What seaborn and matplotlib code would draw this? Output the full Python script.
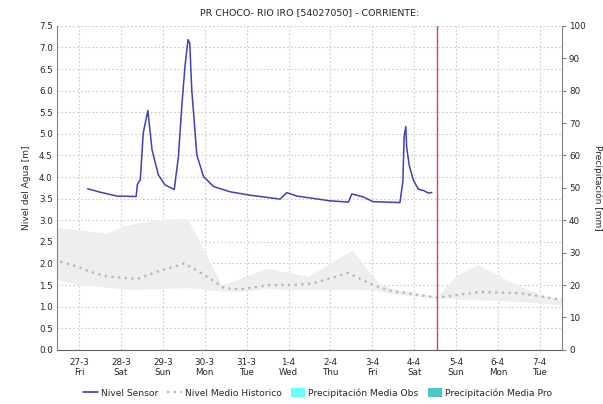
import numpy as np
import pandas as pd
import seaborn as sns
import matplotlib
matplotlib.use("Agg")
import matplotlib.pyplot as plt
from matplotlib.lines import Line2D
from matplotlib.patches import Patch

# dias desde 27-3 00:00 y nivel del sensor [m]
dias_sensor = [0.20, 0.50, 0.90, 1.36, 1.39, 1.46, 1.53, 1.64, 1.74, 1.89, 2.05, 2.27,
               2.37, 2.45, 2.53, 2.60, 2.64, 2.69, 2.81, 2.97, 3.21, 3.60, 4.08, 4.80,
               4.96, 5.20, 5.99, 6.43, 6.51, 6.78, 7.02, 7.66, 7.73, 7.76, 7.80, 7.82,
               7.88, 7.98, 8.10, 8.22, 8.34, 8.42]
nivel_sensor = [3.73, 3.65, 3.56, 3.55, 3.83, 3.94, 5.02, 5.54, 4.63, 4.05, 3.82, 3.71,
                4.47, 5.63, 6.60, 7.18, 7.10, 6.00, 4.51, 4.01, 3.78, 3.66, 3.58, 3.49,
                3.64, 3.56, 3.45, 3.42, 3.61, 3.54, 3.43, 3.41, 3.90, 4.94, 5.17, 4.70,
                4.28, 3.93, 3.72, 3.69, 3.63, 3.64]

# nivel medio historico
dias_medio = [-0.45, -0.05, 0.26, 0.67, 1.38, 1.86, 2.51, 2.98, 3.46, 3.84, 4.56, 5.11,
              5.58, 6.42, 7.02, 7.42, 8.54, 9.57, 10.53, 11.53]
nivel_medio = [2.04, 1.93, 1.81, 1.70, 1.64, 1.81, 2.00, 1.74, 1.43, 1.40, 1.50, 1.50,
               1.54, 1.78, 1.50, 1.37, 1.21, 1.34, 1.31, 1.16]

# banda historica (min / max)
dias_banda = [-0.53, -0.05, 0.67, 1.07, 2.03, 2.58, 3.41, 3.96, 4.49, 5.04, 5.47, 6.52,
              7.11, 7.42, 8.54, 9.02, 9.52, 10.45, 11.07, 11.53]
banda_max = [2.83, 2.78, 2.70, 2.88, 3.03, 3.05, 1.50, 1.70, 1.89, 1.78, 1.70, 2.31,
             1.58, 1.43, 1.23, 1.74, 1.97, 1.50, 1.27, 1.16]
banda_min = [1.62, 1.52, 1.45, 1.40, 1.42, 1.44, 1.36, 1.36, 1.42, 1.40, 1.40, 1.40,
             1.38, 1.30, 1.20, 1.18, 1.16, 1.12, 1.08, 1.04]

dia_actual = 8.54
etiquetas_x = ["27-3\nFri", "28-3\nSat", "29-3\nSun", "30-3\nMon", "31-3\nTue", "1-4\nWed",
               "2-4\nThu", "3-4\nFri", "4-4\nSat", "5-4\nSun", "6-4\nMon", "7-4\nTue"]

sensor = pd.DataFrame({"dia": dias_sensor, "nivel": nivel_sensor})
medio = pd.DataFrame({"dia": dias_medio, "nivel": nivel_medio})

sns.set_style("white")
plt.rcParams["font.family"] = ["DejaVu Sans"]

fig = plt.figure(figsize=(6.03, 4.04), dpi=100)
ax = fig.add_axes([0.0945, 0.134, 0.8375, 0.802])

ax.fill_between(dias_banda, banda_min, banda_max, color="#eeeeee", lw=0, zorder=1)
sns.lineplot(data=medio, x="dia", y="nivel", ax=ax, color="#b4b4b4", lw=1.6,
             linestyle=(0, (1, 2)), zorder=2)
sns.lineplot(data=sensor, x="dia", y="nivel", ax=ax, color="#4040b8", lw=1.1, zorder=3)
ax.axvline(dia_actual, color="#d04848", lw=1, zorder=4)

ax.set_xlim(-0.53, 11.53)
ax.set_ylim(0, 7.5)
ax.set_xticks(range(len(etiquetas_x)))
ax.set_xticklabels(etiquetas_x, fontsize=6.3, linespacing=1.15)
ax.set_yticks(np.arange(0, 7.51, 0.5))
ax.set_yticklabels([f"{v:.1f}" for v in np.arange(0, 7.51, 0.5)], fontsize=6.3)
ax.tick_params(axis="x", length=0, pad=6)
ax.tick_params(axis="y", length=0, pad=3)
ax.grid(True, color="#cccccc", linestyle=(0, (1.5, 2)), lw=0.8)
ax.set_axisbelow(True)
ax.set_xlabel("")
ax.set_ylabel("Nivel del Agua [m]", fontsize=6.5, labelpad=6)
for s in ["top", "right"]:
    ax.spines[s].set_visible(False)
ax.spines["left"].set_color("#808080")
ax.spines["bottom"].set_color("#606060")
ax.spines["bottom"].set_linestyle((0, (1, 1)))

ax2 = ax.twinx()
ax2.set_ylim(0, 100)
ax2.set_yticks(range(0, 101, 10))
ax2.tick_params(axis="y", labelsize=6.3, length=3, color="#808080", pad=2)
ax2.set_ylabel("Precipitación [mm]", fontsize=6.5, rotation=-90, labelpad=12)
for s in ["top", "left", "bottom"]:
    ax2.spines[s].set_visible(False)
ax2.spines["right"].set_color("#808080")

ax.set_title("PR CHOCO- RIO IRO [54027050] - CORRIENTE:", fontsize=6.8, pad=8)

handles = [
    Line2D([], [], color="#2a2a9a", lw=1.1),
    Line2D([], [], color="#b4b4b4", lw=1.6, linestyle=(0, (1, 2))),
    Patch(facecolor="#66ffff", edgecolor="none"),
    Patch(facecolor="#4cc8c8", edgecolor="none"),
]
labels = ["Nivel Sensor", "Nivel Medio Historico", "Precipitación Media Obs",
          "Precipitación Media Pro"]
fig.legend(handles, labels, loc="center", bbox_to_anchor=(0.527, 0.028), ncol=4,
           frameon=False, fontsize=6.6, handlelength=1.6, handletextpad=0.3,
           columnspacing=1.0, handleheight=1.2)

fig.savefig("out.png", dpi=100)
